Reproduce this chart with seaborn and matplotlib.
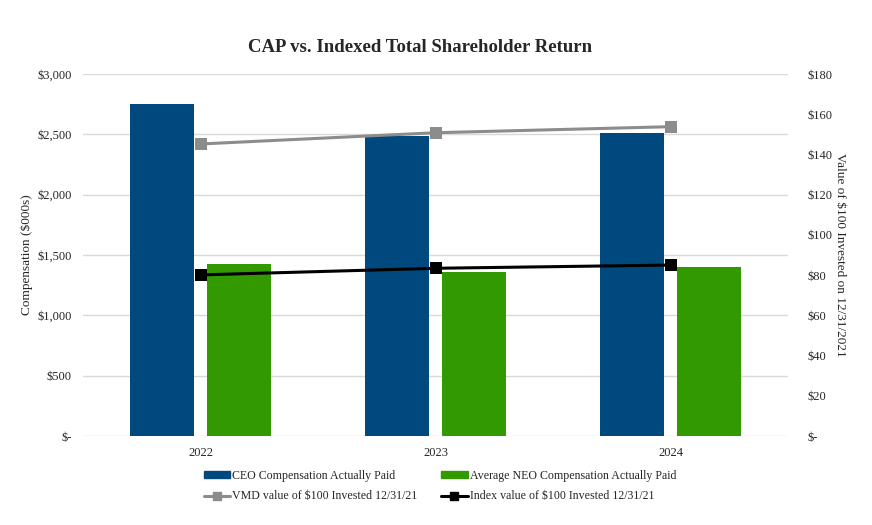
import pandas as pd
import numpy as np
import matplotlib
matplotlib.use("Agg")
import matplotlib.pyplot as plt
import seaborn as sns
from matplotlib.patches import Patch
from matplotlib.lines import Line2D
from matplotlib.ticker import FuncFormatter

years = ["2022", "2023", "2024"]
ceo_cap = [2750, 2485, 2515]
neo_cap = [1425, 1360, 1400]
vmd_tsr = [145.2, 150.8, 153.8]
index_tsr = [80.1, 83.4, 85.0]

ceo_label = "CEO Compensation Actually Paid"
neo_label = "Average NEO Compensation Actually Paid"
vmd_label = "VMD value of $100 Invested 12/31/21"
idx_label = "Index value of $100 Invested 12/31/21"

sns.set_style("white")
plt.rcParams["font.family"] = ["Liberation Serif", "DejaVu Serif"]

bars = pd.DataFrame({
    "year": years * 2,
    "value": ceo_cap + neo_cap,
    "series": [ceo_label] * 3 + [neo_label] * 3,
})

blue = "#00497f"
green = "#339900"
grey = "#8c8c8c"

fig = plt.figure(figsize=(8.72, 5.25), dpi=100)
ax = fig.add_axes([83 / 872, 1 - 436 / 525, 705 / 872, 362 / 525])

sns.barplot(data=bars, x="year", y="value", hue="series",
            palette=[blue, green], width=0.65, gap=0.16,
            saturation=1, legend=False, linewidth=0, ax=ax)

ax.set_ylim(0, 3000)
ax.set_yticks(range(0, 3001, 500))
ax.yaxis.set_major_formatter(FuncFormatter(lambda v, p: "$-" if v == 0 else f"${v:,.0f}"))
ax.grid(axis="y", color="#d9d9d9", linewidth=1)
ax.set_axisbelow(True)
for s in ax.spines.values():
    s.set_visible(False)
ax.tick_params(axis="both", length=0, labelsize=9, pad=8)
ax.set_xlabel("")
ax.set_ylabel("Compensation ($000s)", fontsize=9.5, labelpad=3)

ax2 = ax.twinx()
lines = pd.DataFrame({"x": [0, 1, 2], "vmd": vmd_tsr, "idx": index_tsr})
sns.lineplot(data=lines, x="x", y="vmd", color=grey, marker="s", markersize=8,
             markeredgewidth=0, linewidth=2.2, ax=ax2)
sns.lineplot(data=lines, x="x", y="idx", color="black", marker="s", markersize=8,
             markeredgewidth=0, linewidth=2.2, ax=ax2)
ax2.set_ylim(0, 180)
ax2.set_yticks(range(0, 181, 20))
ax2.yaxis.set_major_formatter(FuncFormatter(lambda v, p: "$-" if v == 0 else f"${v:.0f}"))
for s in ax2.spines.values():
    s.set_visible(False)
ax2.tick_params(axis="y", length=0, labelsize=9, pad=14)
ax2.set_xlabel("")
ax2.set_ylabel("Value of $100 Invested on 12/31/2021", fontsize=9.5,
               rotation=270, labelpad=10)
ax.set_xlim(-0.5, 2.5)
ax2.set_xlim(-0.5, 2.5)

fig.text(420 / 872, 1 - 47 / 525, "CAP vs. Indexed Total Shareholder Return",
         ha="center", va="center", fontsize=13.5, fontweight="bold")

handles = [
    Patch(color=blue, label=ceo_label),
    Line2D([], [], color=grey, marker="s", markersize=6, linewidth=2.2, label=vmd_label),
    Patch(color=green, label=neo_label),
    Line2D([], [], color="black", marker="s", markersize=6, linewidth=2.2, label=idx_label),
]
fig.legend(handles=handles, ncol=2, loc="center", bbox_to_anchor=(440 / 872, 1 - 486 / 525),
           frameon=False, fontsize=8.6, handlelength=2.2, handleheight=0.5,
           columnspacing=2.0, labelspacing=0.75, handletextpad=0.2)

fig.savefig("out.png", dpi=100)
